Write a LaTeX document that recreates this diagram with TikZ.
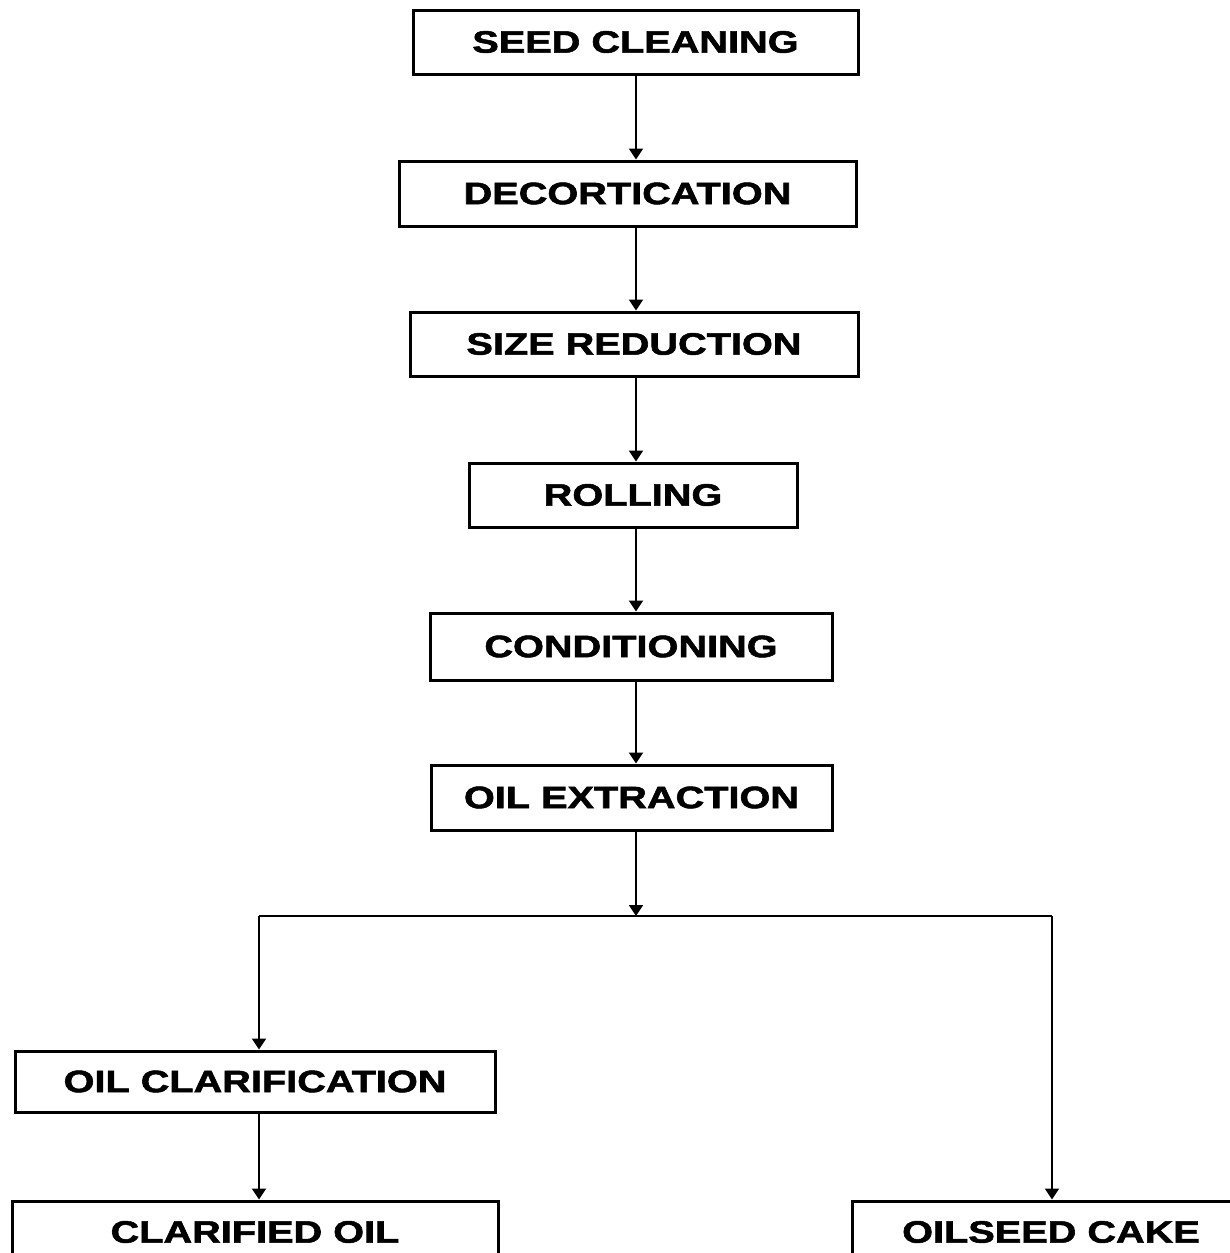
\documentclass[tikz,border=0pt]{standalone}
\usepackage{fontspec}
\usepackage{graphicx}
\setmainfont{Liberation Sans}
\newfontfamily\labfont{Liberation Sans}[BoldFeatures={FakeBold=1.6}]
\usetikzlibrary{arrows.meta}
\newcommand{\lbl}[1]{\scalebox{1.28}[1]{\labfont\bfseries #1}}
\begin{document}
\begin{tikzpicture}[x=1pt,y=-1pt,
  box/.style={draw, line width=3pt, minimum height=#1, inner sep=0pt, font=\fontsize{31}{31}\selectfont},
  box/.default=64pt,
  arr/.style={line width=2.2pt, -{Triangle[width=14pt,length=11pt]}},
  ln/.style={line width=2.2pt}]
\useasboundingbox[fill=white] (0,0) rectangle (1229,1253);
\node[box, minimum width=445pt] (seed) at (635.5,42) {\lbl{SEED CLEANING}};
\node[box=65pt, minimum width=457pt] (dec) at (627.5,193.5) {\lbl{DECORTICATION}};
\node[box, minimum width=448pt] (size) at (634,344) {\lbl{SIZE REDUCTION}};
\node[box, minimum width=328pt] (roll) at (633,495) {\lbl{ROLLING}};
\node[box=67pt, minimum width=402pt] (cond) at (631,646.5) {\lbl{CONDITIONING}};
\node[box=65pt, minimum width=401pt] (ext) at (631.5,797.5) {\lbl{OIL EXTRACTION}};
\node[box=61pt, minimum width=480pt] (clar) at (255,1081.5) {\lbl{OIL CLARIFICATION}};
\node[box=62pt, minimum width=486pt] (oil) at (255,1232) {\lbl{CLARIFIED OIL}};
\node[box=62pt, minimum width=398pt] (cake) at (1051,1232) {\lbl{OILSEED CAKE}};
\coordinate (X) at (636,0);
\coordinate (J) at (636,916);
\coordinate (L) at (259,916);
\coordinate (R) at (1052,916);
\draw[arr] (seed.south -| X) -- (dec.north -| X);
\draw[arr] (dec.south -| X) -- (size.north -| X);
\draw[arr] (size.south -| X) -- (roll.north -| X);
\draw[arr] (roll.south -| X) -- (cond.north -| X);
\draw[arr] (cond.south -| X) -- (ext.north -| X);
\draw[arr] (ext.south -| X) -- (J);
\draw[ln] (L) -- (R);
\draw[arr] (L) -- (clar.north -| L);
\draw[arr] (clar.south -| L) -- (oil.north -| L);
\draw[arr] (R) -- (cake.north -| R);
\end{tikzpicture}
\end{document}
